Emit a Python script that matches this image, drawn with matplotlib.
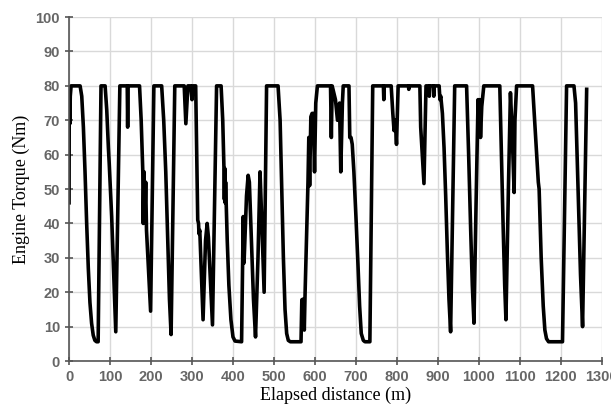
import matplotlib.pyplot as plt

# Engine torque trace
distance = [0, 0.5, 2, 3, 5, 27, 31, 35, 39, 43, 47, 51, 55, 59, 63, 67, 71, 78,
            88, 92, 96, 98, 104, 109, 114, 124, 142, 143, 144, 172, 176, 179, 180,
            181, 183, 185, 187, 189, 199, 207, 226, 231, 236, 241, 245, 249, 258,
            281, 285, 290, 297, 300, 302, 309, 311, 314, 316, 317, 319, 327, 333,
            337, 340, 350, 360, 371, 375, 378, 379, 380, 381, 382, 386, 390, 395,
            400, 405, 421, 425, 427, 429, 433, 437, 440, 445, 450, 455, 461, 466,
            469, 476, 482, 510, 515, 519, 523, 527, 531, 535, 540, 566, 568, 571,
            574, 576, 583, 585, 587, 590, 593, 596, 599, 602, 606, 638, 640, 642,
            650, 655, 660, 663, 667, 669, 683, 685, 688, 691, 695, 700, 705, 709,
            713, 718, 722, 734, 741, 767, 768, 769, 786, 790, 793, 796, 799, 803,
            828, 829, 830, 856, 858, 862, 866, 871, 878, 879, 880, 889, 890, 891,
            903, 905, 907, 911, 915, 919, 923, 927, 931, 941, 970, 975, 980, 984,
            988, 993, 998, 1000, 1002, 1004, 1007, 1012, 1051, 1055, 1059, 1063,
            1066, 1072, 1077, 1080, 1083, 1086, 1088, 1092, 1131, 1135, 1140, 1145,
            1147, 1152, 1157, 1161, 1165, 1170, 1204, 1214, 1232, 1236, 1240, 1244,
            1248, 1253, 1263]
torque = [46, 77, 69, 77, 80, 80, 77, 68, 55, 40, 27, 17, 11, 7.5, 6, 5.6, 5.6, 80,
          80, 73, 62, 57.5, 42, 25, 8.5, 80, 80, 68, 80, 80, 70, 58, 55,
          40, 55, 42, 52, 38, 14.5, 80, 80, 70, 55, 35, 18, 7.7, 80,
          80, 69, 80, 80, 76, 80, 80, 65, 41, 40, 37, 38, 12, 35,
          40, 36, 10.5, 80, 80, 70, 56, 47, 56, 46, 52, 35, 22, 12,
          7, 5.8, 5.6, 42, 28.5, 35, 48, 54, 52, 35, 18, 7, 30, 55,
          45, 20, 80, 80, 70, 50, 30, 15, 8, 6, 5.6, 5.6, 17.8, 18,
          9, 20, 52, 65, 51, 71, 72, 72, 55, 75, 80, 80, 65, 80,
          76, 70, 75, 55, 75, 80, 80, 65, 65, 63, 55, 42, 28, 16,
          8, 6, 5.6, 5.6, 80, 80, 76, 80, 80, 72, 67, 70, 63, 80,
          80, 79, 80, 80, 68, 60, 51.6, 80, 80, 77, 80, 80, 77, 80,
          80, 76, 77, 72, 62, 48, 32, 18, 8.5, 80, 80, 60, 38, 22,
          11, 45, 76, 70, 76, 65, 74, 80, 80, 60, 40, 22,
          12, 50, 78, 70, 60, 49, 70, 80, 80, 72, 62, 52,
          50, 30, 16, 9, 6.5, 5.6, 5.6, 80, 80, 75, 58, 40,
          25, 10, 79]

x_ticks = list(range(0, 1301, 100))
y_ticks = list(range(0, 101, 10))

fig = plt.figure(figsize=(6.11, 4.07), dpi=100)
ax = fig.add_axes([0.113, 0.113, 0.872, 0.845])

ax.plot(distance, torque, color='black', linewidth=2.6, solid_joinstyle='round')

ax.set_xlim(0, 1300)
ax.set_ylim(0, 100)
ax.set_xticks(x_ticks)
ax.set_yticks(y_ticks)
ax.grid(True, color='#d9d9d9', linewidth=1)
ax.set_axisbelow(True)

for side in ['top', 'right']:
    ax.spines[side].set_visible(False)
for side in ['left', 'bottom']:
    ax.spines[side].set_color('#555555')
    ax.spines[side].set_linewidth(1.2)

ax.tick_params(direction='inout', length=6, width=1.2, color='#555555',
               labelcolor='#666666', labelsize=10.5)
for lbl in ax.get_xticklabels() + ax.get_yticklabels():
    lbl.set_fontfamily('Liberation Sans')
    lbl.set_fontweight('bold')

ax.set_xlabel('Elapsed distance (m)', fontfamily='Liberation Serif', fontsize=13, labelpad=2)
ax.set_ylabel('Engine Torque (Nm)', fontfamily='Liberation Serif', fontsize=13, labelpad=4)

plt.savefig('out.png', dpi=100)
